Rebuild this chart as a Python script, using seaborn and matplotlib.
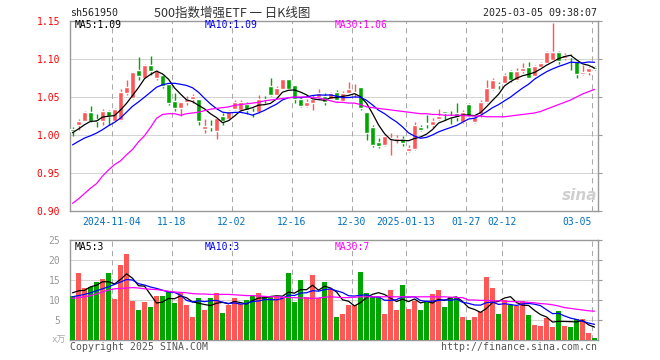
import numpy as np
import pandas as pd
import seaborn as sns
import matplotlib
matplotlib.use("Agg")
import matplotlib.pyplot as plt

# daily candles, 2024-10-24 .. 2025-03-05
opens = [1.008, 1.0135, 1.019, 1.030, 1.0205, 1.019, 1.031, 1.019, 1.020, 1.055,
         1.0486, 1.085, 1.075, 1.0925, 1.0746, 1.079, 1.067, 1.0442, 1.035, 1.043,
         1.0473, 1.0478, 1.0078, 1.0122, 1.0047, 1.0254, 1.021, 1.034, 1.033, 1.0404,
         1.0305, 1.0307, 1.047, 1.0645, 1.053, 1.061, 1.0737, 1.066, 1.047, 1.0386,
         1.0425, 1.0496, 1.0513, 1.047, 1.0566, 1.0447, 1.0548, 1.0548, 1.0627, 1.0298,
         1.011, 0.9912, 0.9868, 0.9943, 0.994, 0.9947, 0.9794, 0.9811, 1.011, 1.0162,
         1.0132, 1.021, 1.0316, 1.0254, 1.0285, 1.0175, 1.0408, 1.0175, 1.028, 1.043,
         1.0605, 1.0662, 1.068, 1.0842, 1.0724, 1.0842, 1.090, 1.0776, 1.089, 1.0952,
         1.0987, 1.1096, 1.1009, 1.1044, 1.0974, 1.080, 1.0825, 1.0895]
closes = [1.005, 1.0188, 1.030, 1.019, 1.019, 1.031, 1.0245, 1.034, 1.056, 1.0627,
          1.0824, 1.077, 1.0925, 1.0838, 1.0846, 1.064, 1.042, 1.0355, 1.043, 1.0473,
          1.0517, 1.018, 1.0122, 1.0105, 1.0223, 1.018, 1.031, 1.043, 1.044, 1.033,
          1.029, 1.0474, 1.046, 1.0526, 1.062, 1.0737, 1.060, 1.048, 1.0386, 1.0439,
          1.0474, 1.0548, 1.0439, 1.0548, 1.046, 1.0548, 1.0605, 1.056, 1.0351, 1.003,
          0.9868, 0.9855, 0.9987, 0.9965, 0.9956, 0.989, 0.9825, 1.0132, 1.0066, 1.0145,
          1.0189, 1.0254, 1.0285, 1.0237, 1.0237, 1.0307, 1.025, 1.024, 1.0439, 1.0623,
          1.0724, 1.0653, 1.079, 1.0724, 1.0842, 1.0886, 1.0754, 1.0912, 1.0943, 1.1096,
          1.1096, 1.0974, 1.1053, 1.1026, 1.0798, 1.0833, 1.0877, 1.087]
highs = [1.010, 1.021, 1.0315, 1.038, 1.027, 1.034, 1.033, 1.035, 1.0605, 1.0728,
         1.083, 1.1026, 1.093, 1.1044, 1.0855, 1.080, 1.067, 1.055, 1.043, 1.051,
         1.0543, 1.048, 1.021, 1.020, 1.0225, 1.029, 1.0333, 1.0465, 1.046, 1.043,
         1.035, 1.0526, 1.051, 1.0746, 1.064, 1.074, 1.074, 1.066, 1.050, 1.047,
         1.0526, 1.060, 1.055, 1.057, 1.059, 1.058, 1.070, 1.067, 1.0627, 1.030,
         1.013, 0.9955, 1.000, 1.0022, 1.000, 0.9985, 0.9868, 1.0175, 1.013, 1.0263,
         1.022, 1.0338, 1.032, 1.031, 1.0417, 1.033, 1.0417, 1.026, 1.046, 1.0724,
         1.0746, 1.070, 1.081, 1.0855, 1.088, 1.0943, 1.0965, 1.0915, 1.0965, 1.110,
         1.147, 1.110, 1.1075, 1.1062, 1.0987, 1.092, 1.0895, 1.091]
lows = [0.999, 1.007, 1.018, 1.0166, 1.010, 1.013, 1.0126, 1.018, 1.019, 1.053,
        1.048, 1.072, 1.0745, 1.079, 1.0725, 1.062, 1.040, 1.031, 1.0245, 1.040,
        1.042, 1.0135, 1.0025, 1.0047, 0.9946, 1.0135, 1.020, 1.033, 1.031, 1.027,
        1.0232, 1.0285, 1.0417, 1.051, 1.052, 1.060, 1.059, 1.0425, 1.0365, 1.037,
        1.033, 1.048, 1.040, 1.046, 1.045, 1.044, 1.0545, 1.050, 1.033, 0.9934,
        0.9846, 0.9825, 0.9855, 0.9737, 0.9895, 0.9855, 0.978, 0.980, 1.0057, 1.0088,
        1.0088, 1.020, 1.0197, 1.0145, 1.018, 1.016, 1.024, 1.016, 1.024, 1.042,
        1.059, 1.0605, 1.068, 1.070, 1.071, 1.0812, 1.075, 1.0768, 1.088, 1.094,
        1.097, 1.093, 1.099, 1.0855, 1.0746, 1.0788, 1.0783, 1.085]
# volume, 万手
volumes = [11.0, 16.8, 12.9, 13.2, 14.6, 15.3, 16.8, 10.2, 18.8, 21.6,
           9.8, 7.5, 9.6, 8.3, 11.0, 11.0, 12.1, 9.2, 11.8, 8.75,
           5.8, 10.5, 7.5, 10.5, 11.7, 6.8, 8.75, 10.5, 9.0, 10.0,
           11.1, 11.8, 10.8, 10.7, 10.8, 10.7, 16.8, 9.6, 15.0, 10.8,
           16.25, 10.6, 14.6, 12.8, 5.8, 6.5, 8.75, 8.75, 17.0, 11.8,
           10.8, 10.8, 6.5, 12.5, 7.5, 13.75, 7.75, 9.8, 7.5, 9.6,
           11.5, 12.5, 8.25, 10.8, 10.8, 5.8, 5.0, 5.8, 7.1, 15.8,
           13.1, 6.5, 10.0, 8.75, 8.5, 9.75, 6.25, 3.75, 3.5, 5.6,
           3.3, 7.25, 3.5, 3.3, 5.2, 5.2, 1.8, 0.6]
# moving averages that reach back before the first visible day
ma5_head = [1.003, 1.008, 1.0135, 1.018]
ma10_head = [0.987, 0.9916, 0.996, 0.999, 1.0025, 1.007, 1.0122, 1.0166, 1.0223]
ma30 = [0.910, 0.916, 0.923, 0.930, 0.936, 0.946, 0.954, 0.961, 0.966, 0.974,
        0.981, 0.991, 0.999, 1.010, 1.022, 1.027, 1.028, 1.028, 1.026, 1.028,
        1.029, 1.030, 1.032, 1.034, 1.035, 1.036, 1.037, 1.039, 1.040, 1.041,
        1.042, 1.043, 1.045, 1.046, 1.047, 1.048, 1.049, 1.050, 1.050, 1.050,
        1.049, 1.049, 1.047, 1.045, 1.043, 1.043, 1.042, 1.042, 1.040, 1.037,
        1.036, 1.035, 1.034, 1.033, 1.032, 1.031, 1.030, 1.029, 1.028, 1.028,
        1.027, 1.027, 1.026, 1.026, 1.026, 1.026, 1.025, 1.025, 1.025, 1.024,
        1.024, 1.024, 1.024, 1.025, 1.026, 1.027, 1.028, 1.029, 1.031, 1.034,
        1.037, 1.040, 1.043, 1.046, 1.050, 1.054, 1.057, 1.060]
vma5_head = [11.8, 12.3, 12.4, 13.3]
vma10_head = [10.8, 11.1, 11.4, 11.8, 12.3, 12.8, 13.3, 13.9, 14.5]
vma30 = [10.4, 10.6, 10.8, 11.1, 11.5, 12.0, 12.5, 12.8, 12.9, 13.0,
         13.1, 13.0, 12.8, 12.7, 12.6, 12.4, 12.2, 12.0, 11.9, 11.8,
         11.6, 11.5, 11.5, 11.4, 11.4, 11.4, 11.4, 11.3, 11.2, 11.1,
         11.1, 11.0, 10.9, 10.8, 10.8, 10.7, 10.6, 10.6, 10.5, 10.5,
         10.4, 10.5, 10.7, 10.8, 10.7, 10.6, 10.6, 10.7, 10.8, 10.8,
         10.8, 10.8, 10.8, 10.8, 10.8, 10.8, 10.8, 10.8, 10.8, 10.8,
         10.8, 10.8, 10.8, 10.7, 10.6, 10.6, 10.0, 10.0, 9.9, 9.9,
         9.8, 9.8, 9.7, 9.6, 9.6, 9.5, 9.4, 9.3, 9.1, 9.0,
         8.8, 8.5, 8.1, 7.9, 7.7, 7.5, 7.3, 7.2]

tick_idx = [7, 17, 27, 37, 47, 56, 66, 72, 87]
tick_labels = ["2024-11-04", "11-18", "12-02", "12-16", "12-30",
               "2025-01-13", "01-27", "02-12", "03-05"]

RED = "#ff5656"
GREEN = "#00a600"
GRID = "#aaaaaa"

df = pd.DataFrame({"i": np.arange(len(closes)), "open": opens, "close": closes,
                   "high": highs, "low": lows, "vol": volumes,
                   "ma30": ma30, "vma30": vma30})
df["dir"] = np.where(df["close"] >= df["open"], "up", "down")
df["color"] = np.where(df["dir"] == "up", RED, GREEN)
df["ma5"] = df["close"].rolling(5).mean()
df.loc[:3, "ma5"] = ma5_head
df["ma10"] = df["close"].rolling(10).mean()
df.loc[:8, "ma10"] = ma10_head
df["vma5"] = df["vol"].rolling(5).mean()
df.loc[:3, "vma5"] = vma5_head
df["vma10"] = df["vol"].rolling(10).mean()
df.loc[:8, "vma10"] = vma10_head

sns.set_style("white")
plt.rcParams["font.family"] = ["DejaVu Sans Mono", "Noto Sans CJK SC"]

fig = plt.figure(figsize=(6.6, 3.6), dpi=100)
ax = fig.add_axes([70 / 660, 149 / 360, 528 / 660, 190 / 360])
axv = fig.add_axes([70 / 660, 20 / 360, 528 / 660, 100 / 360])

# candles
ax.vlines(df["i"], df["low"], df["high"], colors=df["color"], lw=1, zorder=2)
body = (df["close"] - df["open"]).abs().clip(lower=0.0013)
ax.bar(df["i"], body, bottom=df[["open", "close"]].min(axis=1),
       width=0.78, color=df["color"], zorder=3)
for col, c in [("ma5", "black"), ("ma10", "#0000ff"), ("ma30", "#ff00ff")]:
    sns.lineplot(x=df["i"], y=df[col], color=c, lw=0.9, ax=ax, zorder=4)

# volume
axv.bar(df["i"], df["vol"], width=0.82, color=df["color"], lw=0, zorder=3)
for col, c in [("vma5", "black"), ("vma10", "#0000ff"), ("vma30", "#ff00ff")]:
    sns.lineplot(x=df["i"], y=df[col], color=c, lw=0.9, ax=axv, zorder=4)

xt = [t - 0.42 for t in tick_idx]
for a in (ax, axv):
    a.set_xlim(-0.42, 87.58)
    a.set_xticks(xt)
    a.set_xlabel("")
    a.set_ylabel("")
    a.set_axisbelow(True)
    a.xaxis.grid(True, color=GRID, lw=0.75, linestyle=(0, (5, 4)))
    a.yaxis.grid(True, color=GRID, lw=0.72, linestyle=(0, (1, 1)))
    for s in a.spines.values():
        s.set_color("#999999")
        s.set_linewidth(1)
    a.tick_params(axis="y", left=False, right=True, length=3, color="#999999",
                  labelsize=7, pad=4)

ax.set_ylim(0.90, 1.15)
ax.set_yticks([0.90, 0.95, 1.00, 1.05, 1.10, 1.15])
ax.set_yticklabels([f"{v:.2f}" for v in [0.90, 0.95, 1.00, 1.05, 1.10, 1.15]])
ax.tick_params(axis="y", labelcolor="red")
ax.set_xticklabels(tick_labels)
ax.tick_params(axis="x", length=0, pad=4, labelsize=7, labelcolor="#0070c0")
ax.get_xticklabels()[-1].set_horizontalalignment("right")

axv.set_ylim(0, 25)
axv.set_yticks([5, 10, 15, 20, 25])
axv.tick_params(axis="y", labelcolor="#999999")
axv.tick_params(axis="x", length=0, labelbottom=False)

# header and legends
fig.text(70 / 660, 1 - 13 / 360, "sh561950", fontsize=7.2, va="center", ha="left")
fig.text(232 / 660, 1 - 13 / 360, "500指数增强ETF 一 日K线图", fontsize=9,
         va="center", ha="center", color="#333333",
         family=["Noto Sans CJK SC", "DejaVu Sans"])
fig.text(597 / 660, 1 - 13 / 360, "2025-03-05 09:38:07", fontsize=7.2,
         va="center", ha="right")
for y, labels in [(25.5, ["MA5:1.09", "MA10:1.09", "MA30:1.06"]),
                  (246.5, ["MA5:3", "MA10:3", "MA30:7"])]:
    for x, t, c in zip([75, 205, 335], labels, ["black", "#0000ff", "#ff00ff"]):
        fig.text(x / 660, 1 - y / 360, t, fontsize=7, color=c, va="center", ha="left")

fig.text(66 / 660, 1 - 340 / 360, "x万", fontsize=6.5, color="#aaaaaa",
         va="center", ha="right")
fig.text(70 / 660, 1 - 347 / 360, "Copyright 2025 SINA.COM", fontsize=7.1,
         color="#555555", va="center", ha="left")
fig.text(597 / 660, 1 - 347 / 360, "http://finance.sina.com.cn", fontsize=7.1,
         color="#555555", va="center", ha="right")
fig.text(597 / 660, 1 - 196 / 360, "sina", fontsize=11, color="#cfcfcf",
         style="italic", weight="bold", va="center", ha="right",
         family="DejaVu Sans")

fig.savefig("out.png", dpi=100)
